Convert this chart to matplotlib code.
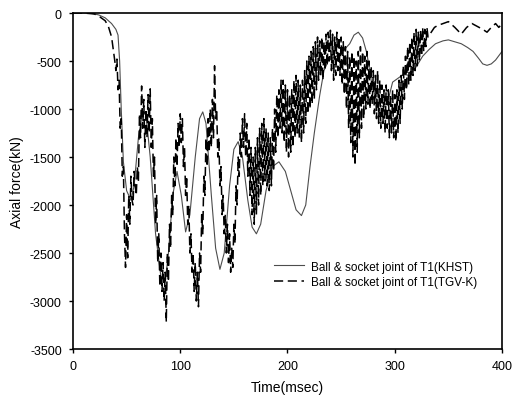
import matplotlib
matplotlib.use("Agg")
import matplotlib.pyplot as plt

plt.rcParams['font.family'] = ['Liberation Sans', 'DejaVu Sans']
plt.rcParams['axes.unicode_minus'] = False

# KHST - ball & socket joint of T1 (smooth trace)
khst_t = [0, 10, 18, 24, 30, 36, 40, 42, 43.5, 45, 47, 50, 54, 57, 61, 65, 68, 72, 77,
          82, 86, 89, 93, 97, 101, 105, 109, 114, 118, 121, 124, 129, 133, 137, 141,
          146, 150, 154, 158, 163, 167, 171, 175, 180, 186, 192, 198, 203, 208, 213,
          217, 221, 225, 230, 234, 238, 243, 248, 253, 258, 262, 266, 270, 274, 278,
          282, 286, 290, 294, 298, 303, 308, 314, 320, 326, 332, 338, 345, 350, 356,
          362, 368, 373, 378, 382, 386, 390, 394, 398, 400]
khst_f = [0, 0, -5, -20, -50, -110, -170, -230, -500, -1000, -1550, -1850, -1950, -1800,
          -1300, -1020, -1050, -1500, -2300, -2750, -2800, -2500, -1900, -1650, -1900,
          -2280, -2100, -1500, -1100, -1030, -1150, -1900, -2450, -2670, -2500, -1800,
          -1420, -1340, -1500, -1950, -2230, -2300, -2200, -1850, -1600, -1550, -1650,
          -1850, -2050, -2110, -2000, -1600, -1250, -860, -600, -500, -460, -440, -380,
          -320, -230, -200, -260, -420, -700, -880, -960, -980, -900, -720, -680, -640,
          -650, -560, -450, -380, -320, -290, -280, -300, -320, -360, -400, -470, -530,
          -545, -530, -490, -430, -400]

# TGV-K - ball & socket joint of T1 (oscillating trace, 1 msec samples from 39 to 331)
tgv_t_start = [0, 10, 20, 25, 30, 33, 36, 38]
tgv_f_start = [0, 0, -10, -40, -80, -140, -250, -420]

tgv_f_osc = [
    -500, -600, -480, -800, -700, -1200, -1100, -1700, -1600, -2300,      # 39-48
    -2650, -2100, -2550, -1900, -2200, -1700, -1950, -2000, -1650, -1800,  # 49-58
    -1900, -1600, -1750, -1050, -1300, -760, -1200, -900, -1400, -1000,    # 59-68
    -1300, -850, -1250, -790, -1400, -1100, -1700, -1500, -2200, -1900,    # 69-78
    -2600, -2300, -2850, -2500, -2900, -2600, -3000, -2700, -3220, -2500,  # 79-88
    -2800, -2200, -2450, -1900, -2100, -1500, -1800, -1300, -1600, -1150,  # 89-98
    -1400, -1050, -1350, -1100, -1600, -1400, -1900, -1700, -2200, -2000,  # 99-108
    -2500, -2300, -2700, -2500, -2900, -2600, -3000, -2700, -3060, -2500,  # 109-118
    -2700, -2100, -2300, -1700, -1900, -1300, -1600, -1100, -1450, -1000,  # 119-128
    -1400, -900, -1300, -550, -1100, -1000, -1500, -1300, -1800, -1600,    # 129-138
    -2100, -1900, -2300, -2100, -2500, -2200, -2600, -2300, -2700, -2450,  # 139-148
    -2650, -2200, -2400, -1800, -2000, -1500, -1700, -1250, -1500, -1100,  # 149-158
    -1400, -1050, -1500, -1150, -1700, -1300, -1900, -1400, -2100, -1500,  # 159-168
    -2200, -1400, -2100, -1300, -2000, -1200, -1900, -1150, -1800, -1100,  # 169-178
    -1750, -1200, -1800, -1250, -1850, -1300, -1800, -1200, -1650, -1000,  # 179-188
    -1450, -850, -1300, -800, -1200, -700, -1250, -700, -1350, -750,      # 189-198
    -1450, -800, -1500, -850, -1450, -800, -1400, -700, -1300, -650,      # 199-208
    -1250, -700, -1300, -750, -1350, -700, -1250, -600, -1150, -500,      # 209-218
    -1050, -450, -1000, -400, -950, -350, -900, -300, -800, -250,         # 219-228
    -700, -290, -650, -250, -700, -300, -600, -220, -550, -200,           # 229-238
    -500, -180, -600, -220, -700, -250, -650, -200, -600, -250,           # 239-248
    -650, -250, -750, -300, -850, -350, -1000, -400, -1200, -450,         # 249-258
    -1350, -400, -1500, -450, -1590, -500, -1450, -400, -1300, -350,      # 259-268
    -1200, -400, -1100, -450, -1000, -400, -950, -500, -1000, -550,       # 269-278
    -950, -600, -1050, -650, -1100, -600, -1150, -700, -1200, -750,       # 279-288
    -1150, -800, -1250, -750, -1200, -800, -1300, -850, -1250, -800,      # 289-298
    -1300, -850, -1340, -800, -1250, -700, -1150, -650, -1000, -550,      # 299-308
    -900, -450, -800, -350, -750, -300, -700, -250, -650, -200,           # 309-318
    -600, -170, -550, -200, -500, -180, -450, -150, -400, -170,           # 319-328
    -350, -150, -250,                                                     # 329-331
]

tgv_t_end = [334, 337, 340, 345, 350, 356, 362, 367, 372, 377, 382, 386, 390, 394, 397, 400]
tgv_f_end = [-200, -150, -130, -110, -90, -150, -220, -150, -110, -140, -170, -200, -150,
             -110, -150, -110]

tgv_t = tgv_t_start + list(range(39, 332)) + tgv_t_end
tgv_f = tgv_f_start + tgv_f_osc + tgv_f_end

legend_labels = ["Ball & socket joint of T1(KHST)", "Ball & socket joint of T1(TGV-K)"]
x_ticks = [0, 100, 200, 300, 400]
y_ticks = [0, -500, -1000, -1500, -2000, -2500, -3000, -3500]

fig = plt.figure(figsize=(5.15, 4.06), dpi=100)
ax = fig.add_axes([0.1417, 0.1379, 0.8331, 0.8276])

ax.plot(khst_t, khst_f, color='0.3', lw=0.8, label=legend_labels[0])
ax.plot(tgv_t, tgv_f, color='black', lw=1.1, dashes=(6, 3), label=legend_labels[1])

ax.set_xlim(0, 400)
ax.set_ylim(-3500, 0)
ax.set_xticks(x_ticks)
ax.set_yticks(y_ticks)
ax.tick_params(direction='out', length=3, width=1, labelsize=9, pad=5)
for s in ax.spines.values():
    s.set_linewidth(1.2)

ax.set_xlabel("Time(msec)", fontsize=10, labelpad=6)
ax.set_ylabel("Axial force(kN)", fontsize=10, labelpad=4)

ax.legend(loc='upper left', bbox_to_anchor=(0.444, 0.295), frameon=False,
          fontsize=8.5, handlelength=2.5, handletextpad=0.6, labelspacing=0.3)

fig.savefig("out.png", dpi=100)
